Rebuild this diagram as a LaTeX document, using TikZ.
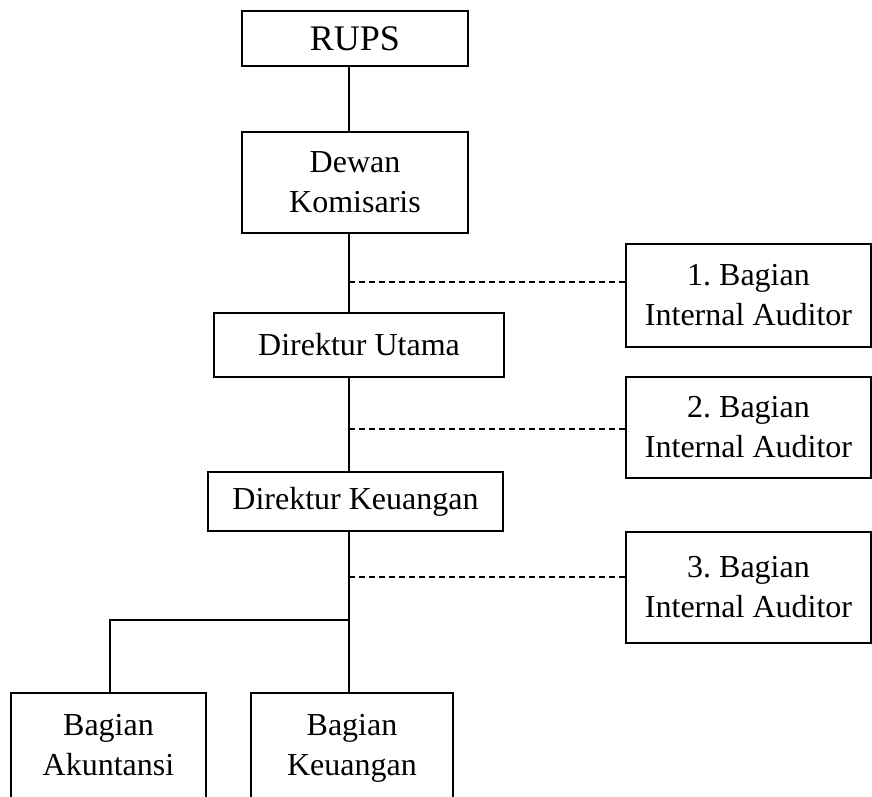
\documentclass[tikz,border=0pt]{standalone}
\usepackage{fontspec}
\setmainfont{Liberation Serif}
\usetikzlibrary{calc}
\frenchspacing

\begin{document}
\begin{tikzpicture}[
    x=1pt, y=-1pt,
    every node/.style={font=\fontsize{32}{40}\selectfont},
    orgbox/.style={
        draw,
        line width=1.8pt,
        align=center,
        inner sep=0pt,
    },
    auditbox/.style={
        orgbox,
        minimum width=245pt,
    },
    link/.style={line width=1.6pt},
    dashlink/.style={line width=1.6pt, dash pattern=on 6pt off 4pt},
]

\clip (0,0) rectangle (872,797);

% Board and directors
\node[orgbox,minimum width=226pt,minimum height=55pt,font=\fontsize{36}{40}\selectfont] (rups) at (355,38.5) {RUPS};
\node[orgbox,minimum width=226pt,minimum height=101pt] (dewan) at (355,182.5) {Dewan\\Komisaris};
\node[orgbox,minimum width=290pt,minimum height=64pt] (utama) at (359,345) {Direktur Utama};
\node[orgbox,minimum width=295pt,minimum height=59pt] (keuangan) at (355.5,501.5) {Direktur Keuangan};

% Internal auditors
\node[auditbox,minimum height=103pt] (audit1) at (748.5,295.5) {1. Bagian\\Internal Auditor};
\node[auditbox,minimum height=101pt] (audit2) at (748.5,427.5) {2. Bagian\\Internal Auditor};
\node[auditbox,minimum height=111pt] (audit3) at (748.5,587.5) {3. Bagian\\Internal Auditor};

% Departments (cut off at the bottom)
\node[orgbox,minimum width=195pt,minimum height=108pt] (akuntansi) at (108.5,747) {\strut Bagian\\\strut Akuntansi};
\node[orgbox,minimum width=202pt,minimum height=108pt] (bagkeu) at (352,747) {\strut Bagian\\\strut Keuangan};

% Spine and junctions
\coordinate (spine) at (349,0);
\coordinate (j1) at (349,282);
\coordinate (j2) at (349,429);
\coordinate (j3) at (349,577);
\coordinate (branch) at (349,620);

\draw[link] (rups.south -| spine) -- (dewan.north -| spine);
\draw[link] (dewan.south -| spine) -- (utama.north -| spine);
\draw[link] (utama.south -| spine) -- (keuangan.north -| spine);
\draw[link] (keuangan.south -| spine) -- (bagkeu.north -| spine);
\draw[link] (branch) -| ($(akuntansi.north)+(1.5,0)$);

\draw[dashlink] (j1) -- (j1 -| audit1.west);
\draw[dashlink] (j2) -- (j2 -| audit2.west);
\draw[dashlink] (j3) -- (j3 -| audit3.west);

\end{tikzpicture}
\end{document}
